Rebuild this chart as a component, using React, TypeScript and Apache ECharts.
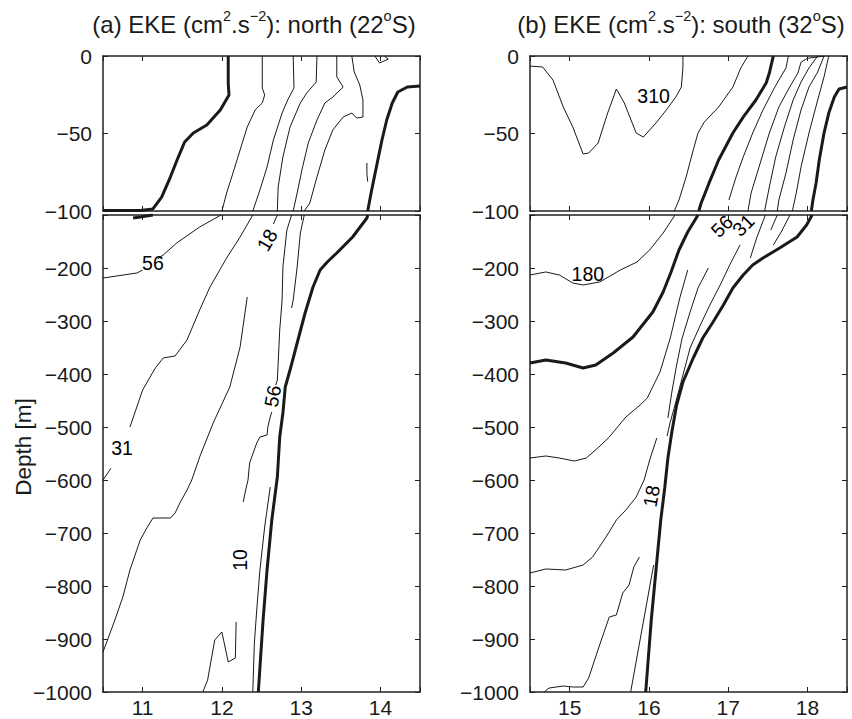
import React, { useEffect, useRef } from 'react';
import * as echarts from 'echarts';

const FONT = '"Liberation Sans", Arial, Helvetica, sans-serif';
const INK = '#1a1a1a';

// ---- axes ----
const xRangeNorth = [10.5, 14.5];
const xRangeSouth = [14.5, 18.5];
const xTicksNorth = [11, 12, 13, 14];
const xTicksSouth = [15, 16, 17, 18];
const depthTop = [-100, 0];
const depthBottom = [-1000, -100];
const titleNorth = '(a) EKE (cm{s|2}.s{s|\u22122}): north (22{s|o}S)';
const titleSouth = '(b) EKE (cm{s|2}.s{s|\u22122}): south (32{s|o}S)';
const yName = 'Depth [m]';

// ---- (a) north, upper panel (0 to -100 m) ----
const nTopA = [[12.08, 0], [12.08, -17.4], [12.09, -25.2], [11.98, -34.8], [11.81, -44.5], [11.64, -49.7], [11.53, -55.5], [11.45, -65.2], [11.35, -78.1], [11.24, -91], [11.13, -98.7], [10.97, -99.7], [10.5, -99.7]];
const nTopB = [[12.51, 0], [12.51, -20.6], [12.54, -25.2], [12.51, -30.3], [12.42, -34.8], [12.32, -45.8], [12.23, -60.6], [12.14, -75.5], [12.06, -88.4], [12.0, -100]];
const nTopC = [[12.9, 0], [12.91, -20.6], [12.83, -28.4], [12.76, -36.8], [12.65, -54.2], [12.57, -71.6], [12.48, -86.5], [12.39, -100]];
const nTopD = [[13.2, 0], [13.19, -16.8], [13.07, -23.9], [12.99, -30.3], [12.86, -45.8], [12.77, -65.2], [12.71, -84.5], [12.7, -100]];
const nTopE = [[13.45, 0], [13.45, -13.5], [13.53, -20], [13.4, -26.5], [13.3, -30.3], [13.2, -41.3], [13.09, -56.1], [13.01, -73.5], [12.95, -88.4], [12.9, -100]];
const nTopF = [[13.64, 0], [13.67, -10.3], [13.74, -18.7], [13.78, -28.4], [13.78, -39.4], [13.7, -40], [13.64, -36.8], [13.53, -39.4], [13.4, -47.7], [13.3, -60.6], [13.2, -78], [13.11, -94.8], [13.04, -100]];
const nTopLoop = [[13.93, 0], [13.99, -4.5], [14.1, -2], [14.05, 0]];
const nTopStub = [[13.83, -69], [13.83, -76], [13.84, -81]];
const nTopG = [[14.5, -19.4], [14.34, -20], [14.22, -23.2], [14.15, -30.3], [14.08, -41.3], [14.02, -54.2], [13.96, -69], [13.89, -86.5], [13.84, -100]];

// ---- (a) north, lower panel (-100 to -1000 m) ----
const nBotA = [[11.13, -100], [10.97, -103.8], [10.88, -105.7]];
const nBotB1 = [[11.99, -100], [11.72, -122.6], [11.43, -152.8], [11.26, -175.5], [11.19, -183]];
const nBotB2 = [[11.0, -203.8], [10.93, -209.4], [10.5, -218.9]];
const nBotC = [[12.39, -100], [12.23, -141.5], [12.06, -181.1], [11.85, -235.8], [11.72, -279.2], [11.56, -335.8], [11.41, -366], [11.26, -369.8], [11.16, -388.7], [11.0, -430.2], [10.84, -500]];
const nBotCStub = [[10.6, -578], [10.5, -600]];
const nBotD1 = [[12.7, -100], [12.65, -117]];
const nBotD2 = [[12.32, -254.7], [12.23, -349], [12.1, -424.5], [11.89, -492.5], [11.72, -556.6], [11.62, -600], [11.56, -618.9], [11.47, -643.4], [11.41, -662.3], [11.35, -671.7], [11.22, -671.7], [11.13, -671.7], [11.06, -688.7], [10.97, -713.2], [10.84, -769.8], [10.75, -820.8], [10.65, -864.2], [10.5, -924.5]];
const nBotE1 = [[12.88, -100], [12.82, -128.3], [12.77, -198.1], [12.76, -260.4], [12.73, -317], [12.7, -411.3], [12.68, -420.8]];
const nBotE2 = [[12.63, -471.7], [12.61, -481.1], [12.58, -500], [12.57, -515.1], [12.48, -518.9], [12.44, -530.2], [12.35, -567.9], [12.33, -600], [12.3, -618.9], [12.27, -641.5]];
const nBotF = [[13.04, -100], [12.99, -134], [12.95, -198.1], [12.9, -260.4], [12.88, -275.5]];
const nBotG = [[13.84, -100], [13.83, -105.7], [13.65, -141.5], [13.45, -171.7], [13.33, -188.7], [13.24, -203.8], [13.15, -235.8], [13.05, -284.9], [12.95, -341.5], [12.86, -392.5], [12.8, -424.5], [12.77, -473.6], [12.73, -518.9], [12.7, -594.3], [12.63, -675.5], [12.57, -769.8], [12.52, -864.2], [12.46, -1000]];
const nBotH = [[12.61, -613.2], [12.54, -688.7], [12.48, -769.8], [12.44, -845.3], [12.41, -907.5], [12.39, -1000]];
const nBotI = [[11.76, -1000], [11.82, -977.4], [11.91, -902], [12.0, -886.8], [12.08, -943.4], [12.17, -935.8], [12.18, -867.9]];

// ---- (b) south, upper panel ----
const sTop310 = [[14.5, -6.5], [14.66, -7.1], [14.79, -15.5], [14.92, -32.9], [15.04, -45.8], [15.17, -63.2], [15.24, -62.6], [15.36, -56.1], [15.48, -36.8], [15.59, -21.3], [15.69, -30.3], [15.84, -49.7], [15.93, -52.3], [16.09, -43.2], [16.22, -34.8], [16.34, -26.5], [16.41, -20], [16.43, -7.1], [16.43, 0]];
const sTop1 = [[17.25, 0], [17.16, -7.7], [17.06, -20], [16.88, -32.9], [16.7, -42.6], [16.62, -49.7], [16.56, -60.6], [16.47, -78.1], [16.38, -92.9], [16.32, -100]];
const sTop2 = [[17.57, 0], [17.52, -11], [17.48, -17.4], [17.35, -28.4], [17.19, -39.4], [17.06, -49.7], [16.88, -67.1], [16.76, -81.9], [16.66, -94.8], [16.63, -100]];
const sTop3 = [[17.76, 0], [17.73, -7.7], [17.64, -15.5], [17.57, -21.9], [17.44, -34.8], [17.31, -49.7], [17.19, -65.2], [17.1, -78.1], [17.01, -92.9]];
const sTop4 = [[18.22, 0], [18.0, -1.5], [17.92, -4], [17.88, -11], [17.77, -20.6], [17.64, -32.9], [17.52, -49.7], [17.39, -71.6], [17.29, -88.4], [17.25, -100]];
const sTop5 = [[18.13, 0], [18.02, -7.7], [17.92, -16.8], [17.82, -28.4], [17.71, -45.8], [17.6, -65.2], [17.52, -84.5], [17.46, -100]];
const sTop6 = [[18.21, 0], [18.13, -10.3], [18.02, -20], [17.92, -34.8], [17.82, -54.2], [17.73, -75.5], [17.64, -92.9], [17.62, -100]];
const sTop7 = [[18.27, 0], [18.21, -13.5], [18.13, -28.4], [18.02, -49.7], [17.92, -71.6], [17.86, -88.4], [17.81, -100]];
const sTop8 = [[18.5, -20], [18.4, -21.3], [18.34, -26.5], [18.27, -36.8], [18.21, -49.7], [18.15, -67.1], [18.11, -81.9], [18.07, -92.9], [18.05, -100]];

// ---- (b) south, lower panel ----
const sBot180 = [[14.5, -213.2], [14.7, -207.5], [14.87, -213.2], [15.04, -228.3], [15.17, -232.1], [15.38, -226.4], [15.64, -203.8], [15.85, -188.7], [16.01, -166], [16.18, -134], [16.33, -100]];
const sBotThick1 = [[14.5, -379.2], [14.7, -373.6], [14.95, -379.2], [15.17, -388.7], [15.33, -383], [15.55, -360.4], [15.8, -330.2], [15.89, -313.2], [16.05, -283], [16.18, -245.3], [16.28, -207.5], [16.38, -166], [16.49, -132.1], [16.62, -100]];
const sBot560 = [[14.5, -558.5], [14.7, -554.7], [14.87, -558.5], [15.06, -564.2], [15.21, -558.5], [15.37, -537.7], [15.5, -518.9], [15.71, -481.1], [15.89, -458.5], [15.98, -445.3], [16.14, -396.2], [16.27, -332.1], [16.39, -256.6], [16.49, -203.8]];
const sBot780 = [[14.5, -775.5], [14.7, -767.9], [14.95, -769.8], [15.17, -760.4], [15.29, -745.3], [15.46, -707.5], [15.59, -675.5], [15.71, -656.6], [15.84, -632.1], [15.94, -600], [16.01, -562.3], [16.1, -520.8]];
const sBot56 = [[16.75, -200], [16.62, -237.7], [16.52, -283], [16.42, -332.1], [16.35, -383], [16.29, -434], [16.24, -483]];
const sBot31 = [[17.15, -156.6], [17.02, -194.3], [16.9, -232.1], [16.77, -269.8], [16.65, -307.5], [16.52, -350.9], [16.42, -407.5], [16.33, -458.5], [16.27, -490.6], [16.23, -517]];
const sBot5 = [[17.47, -100], [17.36, -143.4], [17.28, -181.1]];
const sBot6 = [[17.62, -100], [17.54, -128]];
const sBot7 = [[17.78, -100], [17.67, -132.1], [17.57, -156.6]];
const sBotThick2 = [[18.06, -100], [17.99, -118.9], [17.87, -141.5], [17.65, -162.3], [17.44, -181.1], [17.31, -194.3], [17.19, -213.2], [17.06, -237.7], [16.94, -269.8], [16.81, -301.9], [16.68, -332.1], [16.56, -369.8], [16.43, -415.1], [16.35, -458.5], [16.29, -509.4], [16.24, -558.5], [16.2, -615.1], [16.15, -675.5], [16.09, -769.8], [16.03, -864.2], [15.96, -1000]];
const sBot1000 = [[14.68, -1000], [14.74, -992.5], [14.92, -988.7], [15.04, -990.6], [15.17, -990.6], [15.24, -973.6], [15.37, -915.1], [15.5, -858.5], [15.59, -854.7], [15.67, -813.2], [15.75, -798.1], [15.81, -764.2], [15.88, -745.3]];
const sBotThin = [[15.77, -1000], [16.06, -760.4]];

// ---- contour labels: [x, depth, text, rotation] ----
const labelsNorthBottom: [number, number, string, number][] = [
  [11.13, -190.6, '56', 0],
  [12.57, -147, '18', 60],
  [12.64, -441.5, '56', 80],
  [10.74, -539.6, '31', 0],
  [12.23, -751, '10', 90],
];
const labelsSouthTop: [number, number, string, number][] = [[16.06, -26.1, '310', 0]];
const labelsSouthBottom: [number, number, string, number][] = [
  [15.23, -210.4, '180', 0],
  [16.92, -120.8, '56', 45],
  [17.19, -118.9, '31', 45],
  [16.03, -630.2, '18', 80],
];

// panel index: 0 north-top, 1 north-bottom, 2 south-top, 3 south-bottom
const contours: { data: number[][]; panel: number; thick?: boolean }[] = [
  { data: nTopA, panel: 0, thick: true },
  { data: nTopB, panel: 0 },
  { data: nTopC, panel: 0 },
  { data: nTopD, panel: 0 },
  { data: nTopE, panel: 0 },
  { data: nTopF, panel: 0 },
  { data: nTopLoop, panel: 0 },
  { data: nTopStub, panel: 0 },
  { data: nTopG, panel: 0, thick: true },
  { data: nBotA, panel: 1, thick: true },
  { data: nBotB1, panel: 1 },
  { data: nBotB2, panel: 1 },
  { data: nBotC, panel: 1 },
  { data: nBotCStub, panel: 1 },
  { data: nBotD1, panel: 1 },
  { data: nBotD2, panel: 1 },
  { data: nBotE1, panel: 1 },
  { data: nBotE2, panel: 1 },
  { data: nBotF, panel: 1 },
  { data: nBotG, panel: 1, thick: true },
  { data: nBotH, panel: 1 },
  { data: nBotI, panel: 1 },
  { data: sTop310, panel: 2 },
  { data: sTop1, panel: 2 },
  { data: sTop2, panel: 2, thick: true },
  { data: sTop3, panel: 2 },
  { data: sTop4, panel: 2 },
  { data: sTop5, panel: 2 },
  { data: sTop6, panel: 2 },
  { data: sTop7, panel: 2 },
  { data: sTop8, panel: 2, thick: true },
  { data: sBot180, panel: 3 },
  { data: sBotThick1, panel: 3, thick: true },
  { data: sBot560, panel: 3 },
  { data: sBot780, panel: 3 },
  { data: sBot56, panel: 3 },
  { data: sBot31, panel: 3 },
  { data: sBot5, panel: 3 },
  { data: sBot6, panel: 3 },
  { data: sBot7, panel: 3 },
  { data: sBotThick2, panel: 3, thick: true },
  { data: sBot1000, panel: 3 },
  { data: sBotThin, panel: 3 },
];

const grids = [
  { left: 103, top: 56, width: 317, height: 155 },
  { left: 103, top: 215, width: 317, height: 477 },
  { left: 530, top: 56, width: 317, height: 155 },
  { left: 530, top: 215, width: 317, height: 477 },
];
const panelX = [xRangeNorth, xRangeNorth, xRangeSouth, xRangeSouth];
const panelXTicks = [xTicksNorth, xTicksNorth, xTicksSouth, xTicksSouth];
const panelY = [depthTop, depthBottom, depthTop, depthBottom];
const panelYStep = [50, 100, 50, 100];

function buildOption() {
  const axisLine = { show: true, onZero: false, lineStyle: { color: '#222', width: 1.5 } };
  const axisTick = { show: true, inside: true, length: 5, lineStyle: { color: '#222', width: 1 } };
  const xAxis: any[] = [];
  const yAxis: any[] = [];
  for (let g = 0; g < 4; g++) {
    const isBottom = g === 1 || g === 3;
    for (const pos of ['bottom', 'top']) {
      xAxis.push({
        gridIndex: g, type: 'value', position: pos,
        min: panelX[g][0], max: panelX[g][1], minInterval: 1, maxInterval: 1,
        axisLine, axisTick, splitLine: { show: false },
        axisLabel: pos === 'bottom' && isBottom ? {
          show: true, margin: 5, fontSize: 21, fontFamily: FONT, color: '#1a1a1a',
          formatter: (v: number) => (panelXTicks[g].includes(v) ? String(v) : ''),
        } : { show: false },
      });
    }
    for (const pos of ['left', 'right']) {
      yAxis.push({
        gridIndex: g, type: 'value', position: pos,
        min: panelY[g][0], max: panelY[g][1], interval: panelYStep[g],
        axisLine, axisTick, splitLine: { show: false },
        axisLabel: pos === 'left' ? {
          show: true, margin: 11, fontSize: 21, fontFamily: FONT, color: '#1a1a1a',
          formatter: (v: number) => (isBottom && v === -100 ? '' : String(v).replace('-', '\u2212')),
        } : { show: false },
      });
    }
  }

  const series: any[] = contours.map((c) => ({
    type: 'line', xAxisIndex: c.panel * 2, yAxisIndex: c.panel * 2,
    data: c.data, showSymbol: false, symbol: 'none', silent: true, smooth: false,
    lineStyle: { color: INK, width: c.thick ? 3 : 1 }, z: c.thick ? 3 : 2,
  }));

  const labelSets: [number, [number, number, string, number][]][] = [
    [1, labelsNorthBottom], [2, labelsSouthTop], [3, labelsSouthBottom],
  ];
  for (const [panel, items] of labelSets) {
    series.push({
      type: 'scatter', xAxisIndex: panel * 2, yAxisIndex: panel * 2, silent: true, z: 5,
      symbolSize: 0, itemStyle: { color: '#000' },
      label: { show: true, position: 'inside', fontSize: 19.5, fontFamily: FONT, color: '#000', opacity: 1, textBorderWidth: 0 },
      data: items.map(([x, y, text, rot]) => ({ value: [x, y], label: { formatter: text, rotate: rot } })),
    });
  }

  const titleStyle = (text: string) => ({
    text, fill: INK, fontSize: 24, fontFamily: FONT, align: 'center', verticalAlign: 'middle', lineHeight: 31,
    rich: { s: { fontSize: 14.5, fontFamily: FONT, fill: INK, lineHeight: 14.5, verticalAlign: 'top' } },
  });

  return {
    animation: false,
    backgroundColor: '#fff',
    grid: grids,
    xAxis, yAxis, series,
    graphic: [
      { type: 'text', x: 254, y: 24, silent: true, style: titleStyle(titleNorth) },
      { type: 'text', x: 681, y: 24, silent: true, style: titleStyle(titleSouth) },
      { type: 'text', x: 23, y: 447, rotation: Math.PI / 2, silent: true,
        style: { text: yName, fill: INK, fontSize: 22.5, fontFamily: FONT, align: 'center', verticalAlign: 'middle' } },
    ],
  };
}

export default function App() {
  const ref = useRef<HTMLDivElement>(null);
  useEffect(() => {
    if (!ref.current) return;
    const chart = echarts.init(ref.current, undefined, { renderer: 'svg' });
    chart.setOption(buildOption() as any);
    return () => chart.dispose();
  }, []);
  return <div ref={ref} style={{ position: 'absolute', left: 0, top: 0, width: 852, height: 719, background: '#fff' }} />;
}
